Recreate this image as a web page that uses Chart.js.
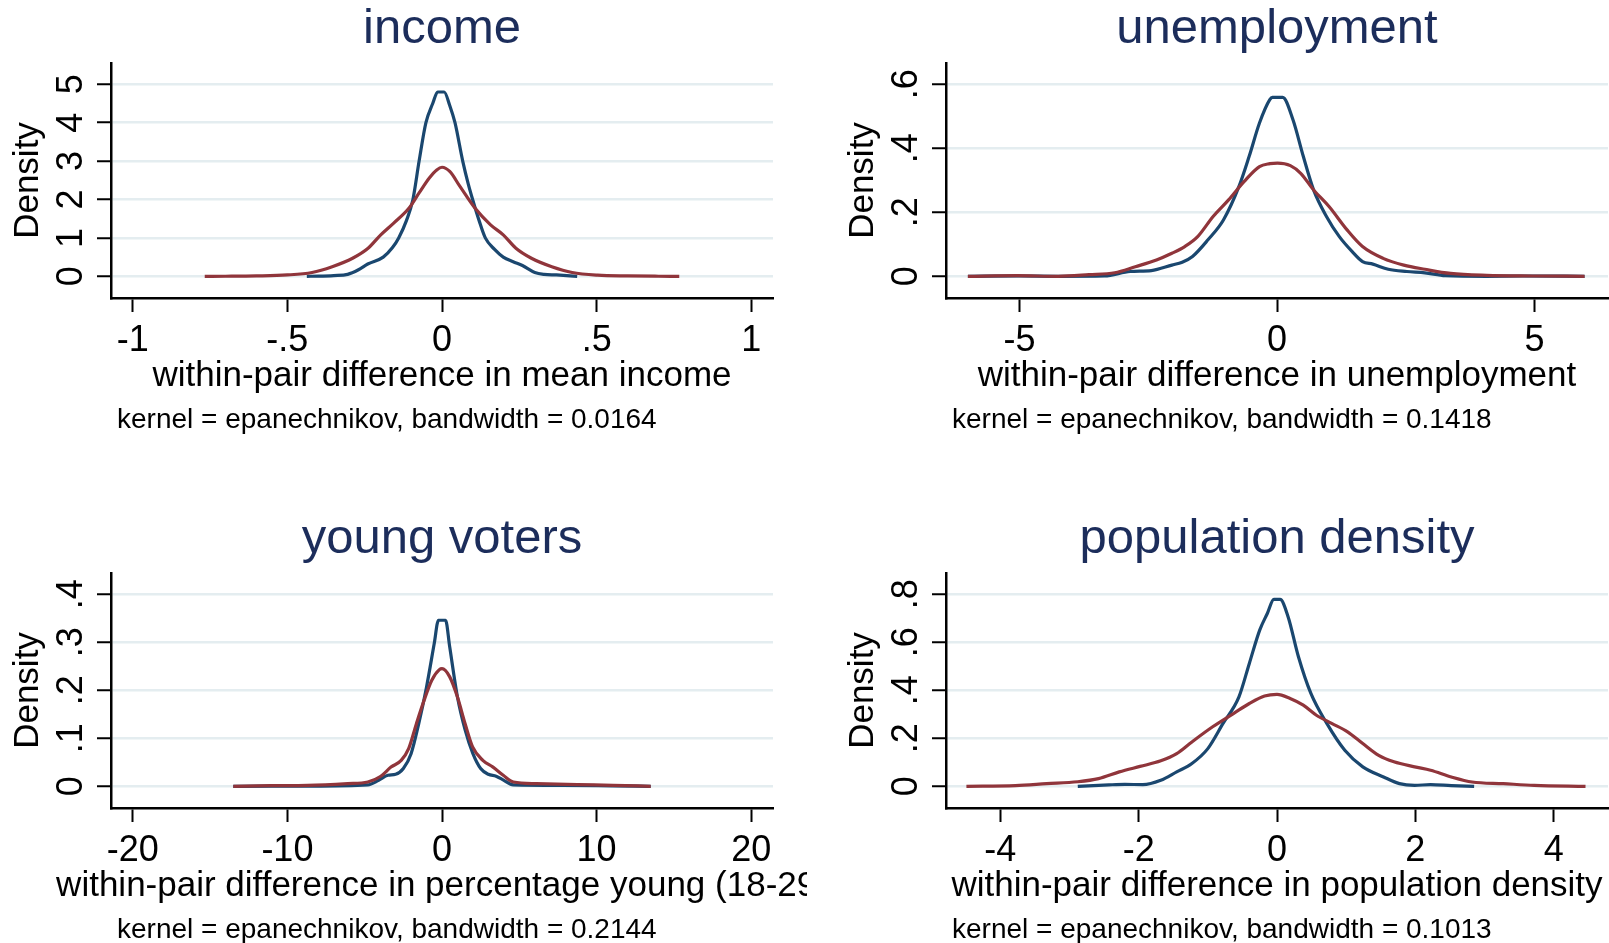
<!DOCTYPE html>
<html>
<head>
<meta charset="utf-8">
<title>Within-pair differences: kernel densities</title>
<script src="https://cdn.jsdelivr.net/npm/chart.js@4.4.1/dist/chart.umd.min.js"></script>
<style>
  html, body { margin: 0; padding: 0; background: #fff; overflow: hidden; width: 1609px; height: 943px; position: relative; }
  canvas { position: absolute; }
</style>
</head>
<body>
<canvas id="pIncome" width="807" height="510" style="left:0px;top:0px"></canvas>
<canvas id="pUnemp" width="807" height="510" style="left:835px;top:0px"></canvas>
<canvas id="pYoung" width="807" height="510" style="left:0px;top:510px"></canvas>
<canvas id="pDensity" width="807" height="510" style="left:835px;top:510px"></canvas>
<script>
// ---- income ----
const incomeNavyX = [-0.437, -0.40, -0.35, -0.305, -0.27, -0.24, -0.19, -0.16, -0.14, -0.115, -0.094, -0.074, -0.052, -0.03, -0.014, 0.007, 0.025, 0.042, 0.067, 0.085, 0.099, 0.12, 0.14, 0.17, 0.198, 0.23, 0.26, 0.30, 0.33, 0.37, 0.437];
const incomeNavyY = [0, 0.005, 0.02, 0.05, 0.17, 0.32, 0.5, 0.75, 1.0, 1.45, 2.0, 3.0, 4.0, 4.5, 4.8, 4.8, 4.45, 4.0, 3.0, 2.4, 2.0, 1.45, 1.0, 0.7, 0.5, 0.38, 0.28, 0.1, 0.05, 0.035, 0];
const incomeMaroonX = [-0.767, -0.70, -0.60, -0.50, -0.42, -0.355, -0.289, -0.239, -0.198, -0.157, -0.107, -0.074, -0.041, -0.017, 0, 0.025, 0.058, 0.107, 0.157, 0.198, 0.239, 0.289, 0.355, 0.421, 0.503, 0.60, 0.70, 0.767];
const incomeMaroonY = [0, 0.002, 0.01, 0.035, 0.1, 0.25, 0.47, 0.73, 1.08, 1.38, 1.77, 2.17, 2.56, 2.77, 2.84, 2.73, 2.34, 1.77, 1.34, 1.08, 0.73, 0.47, 0.25, 0.1, 0.03, 0.01, 0.002, 0];
const incomeXTicks = [-1, -0.5, 0, 0.5, 1];
const incomeXLabels = ['-1', '-.5', '0', '.5', '1'];
const incomeYTicks = [0, 1, 2, 3, 4, 5];
const incomeYLabels = ['0', '1', '2', '3', '4', '5'];

// ---- unemployment ----
const unempNavyX = [-6, -5, -4.25, -3.35, -2.85, -2.44, -2.04, -1.84, -1.64, -1.34, -1.04, -0.74, -0.54, -0.34, -0.14, -0.09, 0.11, 0.31, 0.51, 0.71, 0.96, 1.21, 1.46, 1.66, 1.86, 2.16, 2.52, 2.87, 3.27, 4.07, 4.77, 5.97];
const unempNavyY = [0, 0.001, 0, 0.001, 0.015, 0.018, 0.035, 0.044, 0.062, 0.114, 0.176, 0.28, 0.375, 0.479, 0.552, 0.559, 0.559, 0.489, 0.375, 0.27, 0.187, 0.124, 0.077, 0.046, 0.038, 0.022, 0.015, 0.011, 0.002, 0, 0.001, 0];
const unempMaroonX = [-6, -5.05, -4.25, -3.65, -3.15, -2.75, -2.34, -2.04, -1.79, -1.54, -1.24, -0.94, -0.64, -0.34, -0.14, 0.01, 0.26, 0.46, 0.71, 1.01, 1.36, 1.66, 2.06, 2.46, 2.87, 3.37, 4.07, 4.97, 5.97];
const unempMaroonY = [0, 0.002, 0, 0.005, 0.011, 0.03, 0.051, 0.072, 0.093, 0.124, 0.187, 0.239, 0.296, 0.343, 0.352, 0.354, 0.346, 0.322, 0.27, 0.218, 0.145, 0.093, 0.056, 0.035, 0.022, 0.009, 0.003, 0.001, 0];
const unempXTicks = [-5, 0, 5];
const unempXLabels = ['-5', '0', '5'];
const unempYTicks = [0, 0.2, 0.4, 0.6];
const unempYLabels = ['0', '.2', '.4', '.6'];

// ---- young voters ----
const youngNavyX = [-13.5, -8.7, -4.8, -4.1, -3.5, -3.0, -2.5, -2.0, -1.5, -1.0, -0.5, -0.23, 0.23, 0.5, 1.0, 1.5, 2.0, 2.5, 3.0, 3.5, 4.0, 4.6, 7.8, 11, 13.5];
const youngNavyY = [0, 0.0005, 0.003, 0.0125, 0.023, 0.025, 0.037, 0.068, 0.131, 0.207, 0.298, 0.346, 0.346, 0.29, 0.186, 0.117, 0.068, 0.037, 0.025, 0.021, 0.0125, 0.003, 0.002, 0.001, 0];
const youngMaroonX = [-13.5, -11.05, -8.7, -6.1, -4.8, -3.96, -3.3, -2.64, -2.15, -1.65, -1.16, -0.66, -0.17, 0, 0.5, 1.0, 1.49, 1.98, 2.64, 3.3, 3.96, 4.62, 6.1, 8.75, 11.06, 13.5];
const youngMaroonY = [0, 0.0014, 0.002, 0.0056, 0.009, 0.021, 0.04, 0.054, 0.079, 0.131, 0.179, 0.221, 0.243, 0.245, 0.228, 0.186, 0.131, 0.082, 0.054, 0.04, 0.023, 0.009, 0.0056, 0.0035, 0.002, 0];
const youngXTicks = [-20, -10, 0, 10, 20];
const youngXLabels = ['-20', '-10', '0', '10', '20'];
const youngYTicks = [0, 0.1, 0.2, 0.3, 0.4];
const youngYLabels = ['0', '.1', '.2', '.3', '.4'];

// ---- population density ----
const densNavyX = [-2.88, -2.43, -2.2, -1.94, -1.68, -1.45, -1.23, -1.0, -0.78, -0.55, -0.40, -0.25, -0.14, -0.045, 0.045, 0.16, 0.31, 0.49, 0.72, 0.98, 1.24, 1.54, 1.77, 1.99, 2.22, 2.52, 2.85];
const densNavyY = [0, 0.006, 0.008, 0.007, 0.025, 0.06, 0.095, 0.157, 0.262, 0.373, 0.512, 0.651, 0.72, 0.779, 0.779, 0.707, 0.54, 0.387, 0.262, 0.15, 0.081, 0.039, 0.011, 0.004, 0.007, 0.003, 0];
const densMaroonX = [-4.49, -3.78, -3.33, -2.88, -2.58, -2.28, -1.98, -1.68, -1.45, -1.23, -0.93, -0.63, -0.40, -0.18, 0, 0.19, 0.38, 0.57, 0.79, 1.02, 1.24, 1.47, 1.69, 1.99, 2.22, 2.52, 2.82, 3.27, 3.72, 4.46];
const densMaroonY = [0, 0.003, 0.011, 0.019, 0.032, 0.06, 0.083, 0.106, 0.136, 0.185, 0.248, 0.303, 0.345, 0.376, 0.383, 0.366, 0.338, 0.296, 0.262, 0.227, 0.178, 0.129, 0.102, 0.081, 0.067, 0.039, 0.018, 0.011, 0.004, 0];
const densXTicks = [-4, -2, 0, 2, 4];
const densXLabels = ['-4', '-2', '0', '2', '4'];
const densYTicks = [0, 0.2, 0.4, 0.6, 0.8];
const densYLabels = ['0', '.2', '.4', '.6', '.8'];

// ---- styling ----
const NAVY = '#1a476f';
const MAROON = '#90353b';
const TITLE_COLOR = '#1c2d5b';
const GRID_COLOR = '#e4edf0';
const FONT = '"Liberation Sans", Arial, Helvetica, sans-serif';
const TICK_SIZE = 36;

Chart.defaults.font.family = FONT;
Chart.defaults.color = '#000';

// Axis caption (centred on the plot region, may run past the panel edge)
// and the kernel note (left-aligned just inside the plot's left edge).
const captions = {
  id: 'captions',
  afterDraw(chart, args, opts) {
    const { ctx, chartArea } = chart;
    ctx.save();
    ctx.fillStyle = '#000';
    ctx.textBaseline = 'middle';
    ctx.font = opts.xTitleSize + 'px ' + FONT;
    ctx.textAlign = 'center';
    ctx.fillText(opts.xTitle, (chartArea.left + chartArea.right) / 2, opts.xTitleY);
    ctx.font = opts.noteSize + 'px ' + FONT;
    ctx.textAlign = 'left';
    ctx.fillText(opts.note, chartArea.left + opts.noteIndent, opts.noteY);
    ctx.restore();
  }
};

function toPoints(xs, ys) {
  return xs.map((x, i) => ({ x: x, y: ys[i] }));
}

function densityPanel(id, p) {
  const yTop = p.yTicks[p.yTicks.length - 1];
  const xEdge = p.xRange;
  // y tick labels are rotated; keep their centres 25px left of the tick ends
  const widest = Math.max(...p.yLabels.map(s => s.length)) > 1 ? 0.834 : 0.556;
  const yPad = 25.3 - widest * TICK_SIZE / 2;
  return new Chart(document.getElementById(id), {
    type: 'line',
    plugins: [captions],
    data: {
      datasets: [
        { label: 'maroon', data: toPoints(p.maroonX, p.maroonY), borderColor: MAROON },
        { label: 'navy', data: toPoints(p.navyX, p.navyY), borderColor: NAVY }
      ].map(d => Object.assign(d, {
        borderWidth: 3.2, pointRadius: 0, fill: false,
        cubicInterpolationMode: 'monotone', borderJoinStyle: 'round'
      }))
    },
    options: {
      responsive: false,
      animation: false,
      events: [],
      layout: { autoPadding: false, padding: { left: 0, right: 34, top: 0, bottom: 112 } },
      plugins: {
        legend: { display: false },
        tooltip: { enabled: false },
        title: {
          display: true, text: p.title, color: TITLE_COLOR, fullSize: false,
          font: { size: 49, weight: 'normal', lineHeight: 1.2 },
          padding: { top: 0, bottom: 4.2 }
        },
        captions: {
          xTitle: p.xTitle, xTitleSize: 35, xTitleY: 376,
          note: p.note, noteSize: 28, noteY: 420, noteIndent: 6
        }
      },
      scales: {
        x: {
          type: 'linear', min: -xEdge, max: xEdge,
          afterBuildTicks: s => { s.ticks = p.xTicks.map(v => ({ value: v })); },
          afterFit: s => { s.height = 100; },
          ticks: {
            autoSkip: false, maxRotation: 0, minRotation: 0, padding: 7.4,
            font: { size: TICK_SIZE }, color: '#000',
            callback: (v, i) => p.xLabels[i]
          },
          grid: { drawOnChartArea: false, drawTicks: true, tickLength: 14, tickColor: '#000', tickWidth: 2 },
          border: { display: true, color: '#000', width: 2.5 }
        },
        y: {
          type: 'linear', min: -0.113 * yTop, max: 1.111 * yTop,
          afterBuildTicks: s => { s.ticks = p.yTicks.map(v => ({ value: v })); },
          afterFit: s => { s.width = 111; },
          ticks: {
            autoSkip: false, minRotation: 90, maxRotation: 90, crossAlign: 'center',
            padding: yPad, font: { size: TICK_SIZE }, color: '#000',
            callback: (v, i) => p.yLabels[i]
          },
          grid: { color: GRID_COLOR, lineWidth: 2.5, drawTicks: true, tickLength: 14, tickColor: '#000', tickWidth: 2 },
          border: { display: true, color: '#000', width: 2.5 },
          title: {
            display: true, text: 'Density', color: '#000',
            font: { size: 35, lineHeight: 1.2 }, padding: { top: 7, bottom: 0 }
          }
        }
      }
    }
  });
}

densityPanel('pIncome', {
  title: 'income',
  xTitle: 'within-pair difference in mean income',
  note: 'kernel = epanechnikov, bandwidth = 0.0164',
  navyX: incomeNavyX, navyY: incomeNavyY, maroonX: incomeMaroonX, maroonY: incomeMaroonY,
  xTicks: incomeXTicks, xLabels: incomeXLabels, yTicks: incomeYTicks, yLabels: incomeYLabels,
  xRange: 1.07
});

densityPanel('pUnemp', {
  title: 'unemployment',
  xTitle: 'within-pair difference in unemployment',
  note: 'kernel = epanechnikov, bandwidth = 0.1418',
  navyX: unempNavyX, navyY: unempNavyY, maroonX: unempMaroonX, maroonY: unempMaroonY,
  xTicks: unempXTicks, xLabels: unempXLabels, yTicks: unempYTicks, yLabels: unempYLabels,
  xRange: 6.425
});

densityPanel('pYoung', {
  title: 'young voters',
  xTitle: 'within-pair difference in percentage young (18-29)',
  note: 'kernel = epanechnikov, bandwidth = 0.2144',
  navyX: youngNavyX, navyY: youngNavyY, maroonX: youngMaroonX, maroonY: youngMaroonY,
  xTicks: youngXTicks, xLabels: youngXLabels, yTicks: youngYTicks, yLabels: youngYLabels,
  xRange: 21.41
});

densityPanel('pDensity', {
  title: 'population density',
  xTitle: 'within-pair difference in population density',
  note: 'kernel = epanechnikov, bandwidth = 0.1013',
  navyX: densNavyX, navyY: densNavyY, maroonX: densMaroonX, maroonY: densMaroonY,
  xTicks: densXTicks, xLabels: densXLabels, yTicks: densYTicks, yLabels: densYLabels,
  xRange: 4.785
});
</script>
</body>
</html>
